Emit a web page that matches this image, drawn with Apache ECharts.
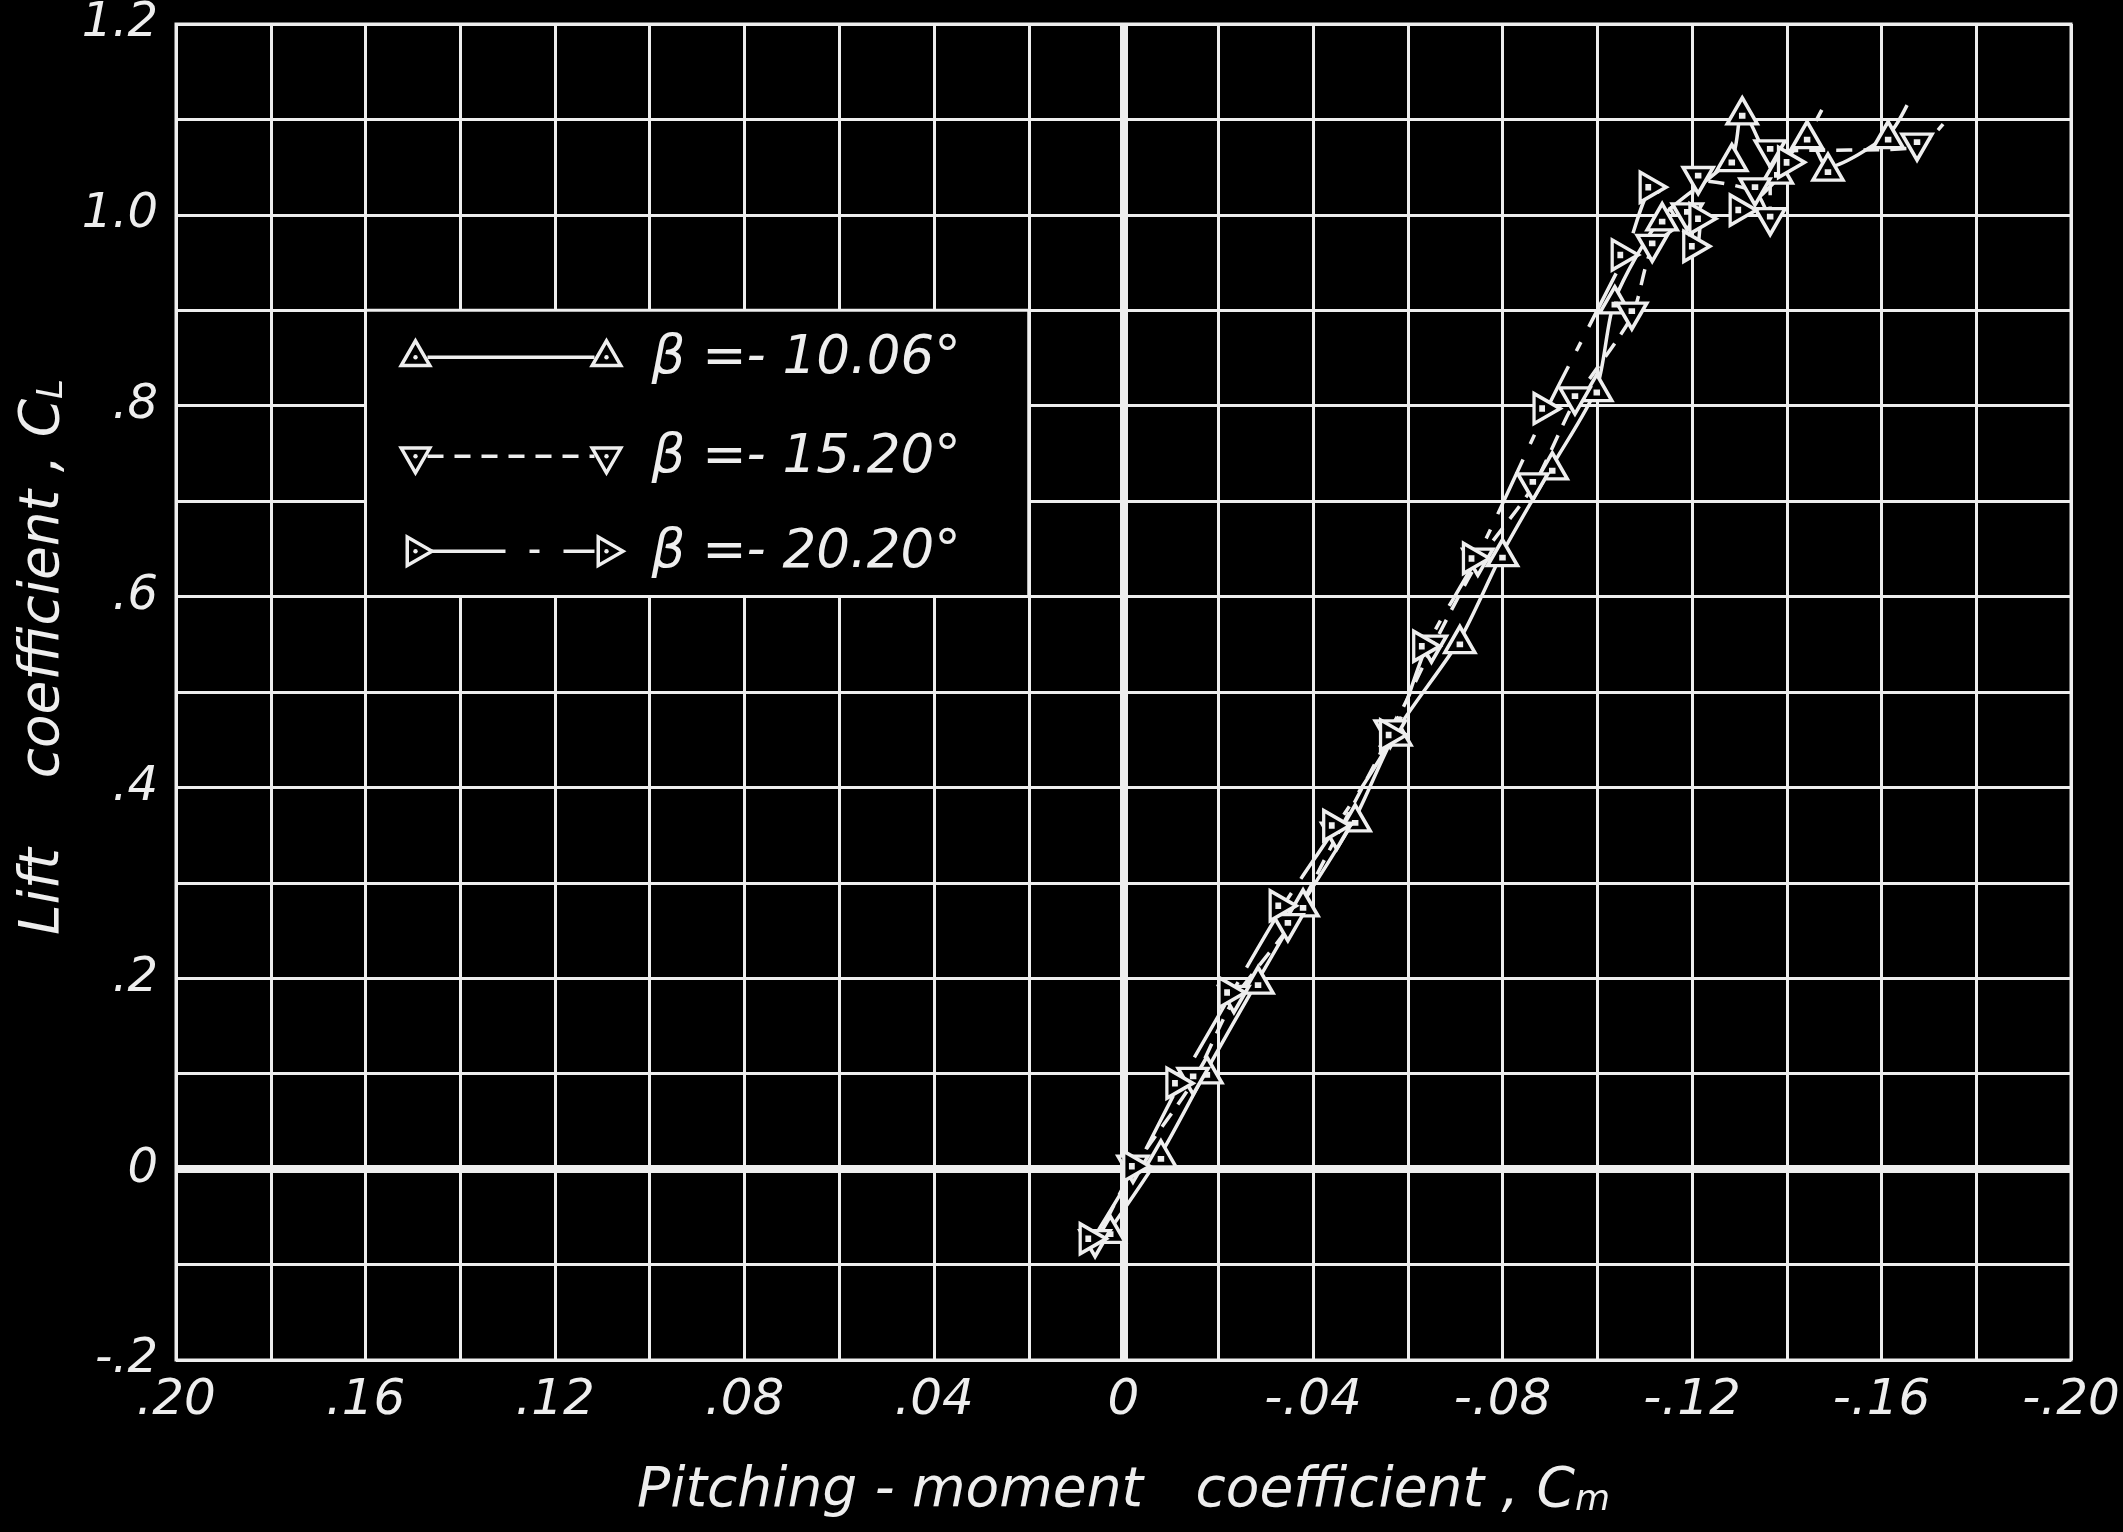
<!DOCTYPE html>
<html>
<head>
<meta charset="utf-8">
<script src="https://cdn.jsdelivr.net/npm/echarts@6.0.0/dist/echarts.min.js"></script>
<style>
  html, body { margin: 0; padding: 0; background: #000; }
  #chart { width: 2123px; height: 1532px; }
</style>
</head>
<body>
<div id="chart"></div>
<script>
// Lift coefficient against pitching-moment coefficient for three sideslip angles.

const betaLabels = ['β =- 10.06°', 'β =- 15.20°', 'β =- 20.20°'];

// [Cm, CL] test points, beta = -10.06 deg
const beta1006 = [
  [0.0028, -0.063], [-0.0079, 0.016], [-0.0176, 0.104], [-0.0284, 0.198],
  [-0.0379, 0.279], [-0.0489, 0.368], [-0.0575, 0.458], [-0.0710, 0.555],
  [-0.0800, 0.646], [-0.0905, 0.737], [-0.0999, 0.819], [-0.1037, 0.911],
  [-0.1137, 0.998], [-0.1284, 1.060], [-0.1306, 1.109], [-0.1380, 1.047],
  [-0.1443, 1.084], [-0.1487, 1.050], [-0.1614, 1.084]
];
// [Cm, CL] test points, beta = -15.20 deg
const beta1520 = [
  [0.0060, -0.078], [-0.0020, 0.000], [-0.0147, 0.092], [-0.0233, 0.178],
  [-0.0347, 0.253], [-0.0450, 0.349], [-0.0563, 0.456], [-0.0650, 0.545],
  [-0.0748, 0.636], [-0.0864, 0.715], [-0.0953, 0.805], [-0.1073, 0.894],
  [-0.1116, 0.965], [-0.1190, 0.998], [-0.1213, 1.036], [-0.1333, 1.024],
  [-0.1365, 0.993], [-0.1365, 1.064], [-0.1675, 1.071]
];
// [Cm, CL] test points, beta = -20.20 deg
const beta2020 = [
  [0.0064, -0.073], [-0.0028, 0.003], [-0.0119, 0.090], [-0.0229, 0.185],
  [-0.0337, 0.276], [-0.0450, 0.360], [-0.0570, 0.455], [-0.0640, 0.548],
  [-0.0745, 0.640], [-0.0894, 0.797], [-0.1059, 0.958], [-0.1118, 1.029],
  [-0.1210, 0.967], [-0.1223, 0.996], [-0.1308, 1.005], [-0.1410, 1.055]
];
// faired curve extensions beyond the last test point of each run
const curveEnds = [[-0.1654, 1.115], [-0.1730, 1.095], [-0.1474, 1.110]];

const xTickValues = [0.20, 0.16, 0.12, 0.08, 0.04, 0, -0.04, -0.08, -0.12, -0.16, -0.20];
const xTickLabels = ['.20', '.16', '.12', '.08', '.04', '0', '-.04', '-.08', '-.12', '-.16', '-.20'];
const yTickValues = [-0.2, 0, 0.2, 0.4, 0.6, 0.8, 1.0, 1.2];
const yTickLabels = ['-.2', '0', '.2', '.4', '.6', '.8', '1.0', '1.2'];

const INK = '#eeeeee';
const FONT = '"DejaVu Sans", "Noto Sans", sans-serif';

function tickLabel(values, labels) {
  return function (v) {
    for (let i = 0; i < values.length; i++) {
      if (Math.abs(values[i] - v) < 1e-6) return labels[i];
    }
    return '';
  };
}

// triangle outline with a small centre dot
const TRI = 'path://M0,-15 L13,7.5 L-13,7.5 Z M-1.2,-0.6 L1.2,-0.6 L1.2,1.6 L-1.2,1.6 Z';
const lineDashes = ['solid', [16, 11], [60, 17, 10, 17]];
const rotations = [0, 180, -90];

function makeSeries(idx, points, end) {
  const data = points.map(p => p.slice());
  data.push({ value: end, symbol: 'none' });
  return {
    name: betaLabels[idx],
    type: 'line',
    data: data,
    smooth: 0.25,
    symbol: TRI,
    symbolSize: [30, 26],
    symbolRotate: rotations[idx],
    showAllSymbol: true,
    lineStyle: { color: INK, width: 3.5, type: lineDashes[idx] },
    itemStyle: { color: '#000', borderColor: INK, borderWidth: 3.5 },
    emphasis: { disabled: true },
    z: 3
  };
}

const chart = echarts.init(document.getElementById('chart'), null, { renderer: 'canvas' });

const series = [
  makeSeries(0, beta1006, curveEnds[0]),
  makeSeries(1, beta1520, curveEnds[1]),
  makeSeries(2, beta2020, curveEnds[2])
];
// heavy zero axes
series[0].markLine = {
  silent: true,
  symbol: 'none',
  label: { show: false },
  lineStyle: { color: INK, width: 8, type: 'solid' },
  data: [{ xAxis: 0 }, { yAxis: 0 }],
  z: 1
};

const titleRich = {
  m: { fontFamily: FONT, fontStyle: 'italic', fontSize: 55, lineHeight: 55, verticalAlign: 'top', color: INK },
  s: { fontFamily: FONT, fontStyle: 'italic', fontSize: 36, lineHeight: 36, padding: [26, 0, 0, 0], verticalAlign: 'bottom', color: INK }
};

chart.setOption({
  backgroundColor: '#000',
  animation: false,
  grid: {
    left: 176, top: 16, width: 1895, height: 1344,
    show: true, borderColor: INK, borderWidth: 3, backgroundColor: 'transparent'
  },
  xAxis: {
    type: 'value',
    inverse: true,
    min: -0.2, max: 0.2, interval: 0.04,
    axisLine: { show: false },
    axisTick: { show: false },
    minorTick: { show: false, splitNumber: 2 },
    splitLine: { show: true, lineStyle: { color: INK, width: 3 } },
    minorSplitLine: { show: true, lineStyle: { color: INK, width: 3 } },
    axisLabel: {
      formatter: tickLabel(xTickValues, xTickLabels),
      color: INK, fontFamily: FONT, fontStyle: 'italic', fontSize: 50, margin: 16
    },
    name: '{m|Pitching - moment   coefficient , C}{s|m}',
    nameLocation: 'middle',
    nameGap: 104,
    nameTextStyle: { color: INK, rich: titleRich }
  },
  yAxis: {
    type: 'value',
    min: -0.2, max: 1.2, interval: 0.2,
    axisLine: { show: false },
    axisTick: { show: false },
    minorTick: { show: false, splitNumber: 2 },
    splitLine: { show: true, lineStyle: { color: INK, width: 3 } },
    minorSplitLine: { show: true, lineStyle: { color: INK, width: 3 } },
    axisLabel: {
      formatter: tickLabel(yTickValues, yTickLabels),
      color: INK, fontFamily: FONT, fontStyle: 'italic', fontSize: 48, margin: 18
    },
    name: '{m|Lift    coefficient , C}{s|L}',
    nameLocation: 'middle',
    nameRotate: 90,
    nameGap: 56,
    nameTextStyle: { color: INK, rich: titleRich, padding: [0, 0, 0, 70] }
  },
  series: series
});

// Key panel drawn over the grid cells between Cm .16/.02 and CL .9/.6
function trianglePoints(cx, cy, rotDeg, k) {
  const base = [[0, -15], [13, 7.5], [-13, 7.5]];
  const a = -rotDeg * Math.PI / 180;
  return base.map(([x, y]) => [
    cx + k * (x * Math.cos(a) - y * Math.sin(a)),
    cy + k * (x * Math.sin(a) + y * Math.cos(a))
  ]);
}

const tl = chart.convertToPixel({ gridIndex: 0 }, [0.16, 0.9]);
const br = chart.convertToPixel({ gridIndex: 0 }, [0.02, 0.6]);
const keyElements = [{
  type: 'rect',
  shape: { x: tl[0], y: tl[1], width: br[0] - tl[0], height: br[1] - tl[1] },
  style: { fill: '#000', stroke: INK, lineWidth: 3 },
  z: 10
}];
const rowOffsets = [47, 146, 241];
rowOffsets.forEach((dy, i) => {
  const y = tl[1] + dy;
  const xa = tl[0] + 50, xb = tl[0] + 241;
  keyElements.push({
    type: 'polyline',
    shape: { points: [[xa + 12, y], [xb - 12, y]] },
    style: {
      stroke: INK, lineWidth: 3.5, fill: null,
      lineDash: lineDashes[i] === 'solid' ? null : (i === 2 ? [78, 24, 10, 24] : lineDashes[i])
    },
    z: 11
  });
  [xa, xb].forEach(xc => {
    keyElements.push({
      type: 'polygon',
      shape: { points: trianglePoints(xc, y, rotations[i], 1.1) },
      style: { fill: '#000', stroke: INK, lineWidth: 3.5 },
      z: 12
    });
    keyElements.push({
      type: 'circle',
      shape: { cx: xc, cy: y, r: 2.2 },
      style: { fill: INK },
      z: 13
    });
  });
  keyElements.push({
    type: 'text',
    x: tl[0] + 286,
    y: y + 2,
    style: {
      text: betaLabels[i],
      fill: INK,
      font: 'italic 53px ' + FONT,
      verticalAlign: 'middle',
      align: 'left'
    },
    z: 12
  });
});
chart.setOption({ graphic: { elements: keyElements } });
</script>
</body>
</html>
